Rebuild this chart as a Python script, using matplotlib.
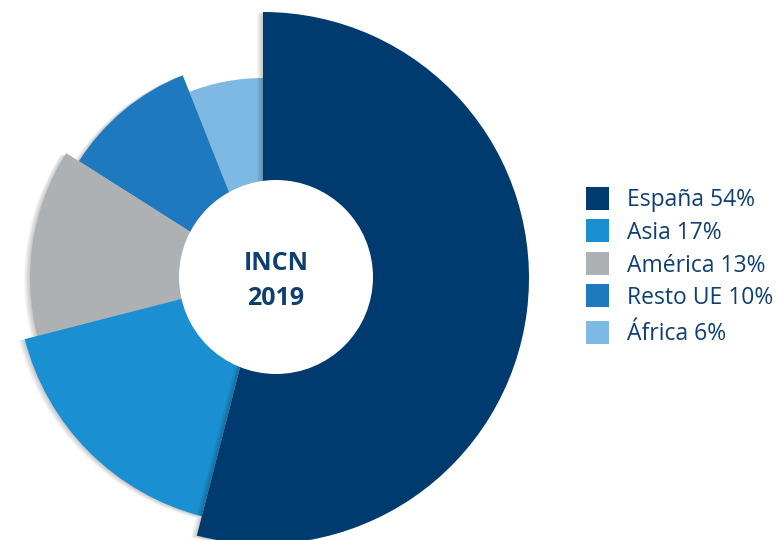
import matplotlib.pyplot as plt
from matplotlib.patches import Wedge, Circle, Rectangle

# datos del grafico (INCN 2019 por region)
regiones = ["España", "Asia", "América", "Resto UE", "África"]
porcentajes = [54, 17, 13, 10, 6]
radios = [266, 246, 233, 218, 200]
colores = ["#003b6f", "#1a8fd1", "#adb1b4", "#1e79bf", "#7eb9e4"]
titulo_centro = ["INCN", "2019"]

color_texto = "#0f3f70"
fuente = ["Open Sans", "DejaVu Sans"]

fig = plt.figure(figsize=(7.8, 5.4), dpi=100)
ax = fig.add_axes([0, 0, 1, 1])
ax.set_xlim(0, 780)
ax.set_ylim(0, 540)
ax.axis("off")

centro = (263, 262)

# angulos: empieza arriba y va en sentido horario
angulos = []
acum = 0
for p in porcentajes:
    t2 = 90 - acum * 3.6
    t1 = t2 - p * 3.6
    angulos.append((t1, t2))
    acum += p

# se dibuja de la ultima a la primera para que España quede encima
for i in reversed(range(len(regiones))):
    t1, t2 = angulos[i]
    z = 10 + (len(regiones) - i) * 2
    # sombra suave hacia la izquierda
    for k in range(1, 7):
        sombra = Wedge((centro[0] - k, centro[1] - 0.3 * k), radios[i], t1, t2,
                       facecolor="black", edgecolor="none", alpha=0.035, zorder=z)
        ax.add_patch(sombra)
    ax.add_patch(Wedge(centro, radios[i], t1, t2, facecolor=colores[i],
                       edgecolor="none", zorder=z + 1))

# hueco central (un poco desplazado respecto al centro del pie)
ax.add_patch(Circle((276, 263), 97, facecolor="white", edgecolor="none", zorder=30))
ax.text(276, 540 - 270, titulo_centro[0], ha="center", va="baseline", fontsize=18,
        fontweight="bold", color=color_texto, family=fuente, zorder=31)
ax.text(276, 540 - 305, titulo_centro[1], ha="center", va="baseline", fontsize=18,
        fontweight="bold", color=color_texto, family=fuente, zorder=31)

# leyenda manual
legend_y = [198, 230.5, 263, 295.5, 332]
for i, reg in enumerate(regiones):
    yc = 540 - legend_y[i]
    ax.add_patch(Rectangle((586, yc - 11.5), 23, 23, facecolor=colores[i],
                           edgecolor="none"))
    ax.text(627, yc - 8.5, f"{reg} {porcentajes[i]}%", ha="left", va="baseline",
            fontsize=16.5, color=color_texto, family=fuente)

fig.savefig("out.png", dpi=100)
